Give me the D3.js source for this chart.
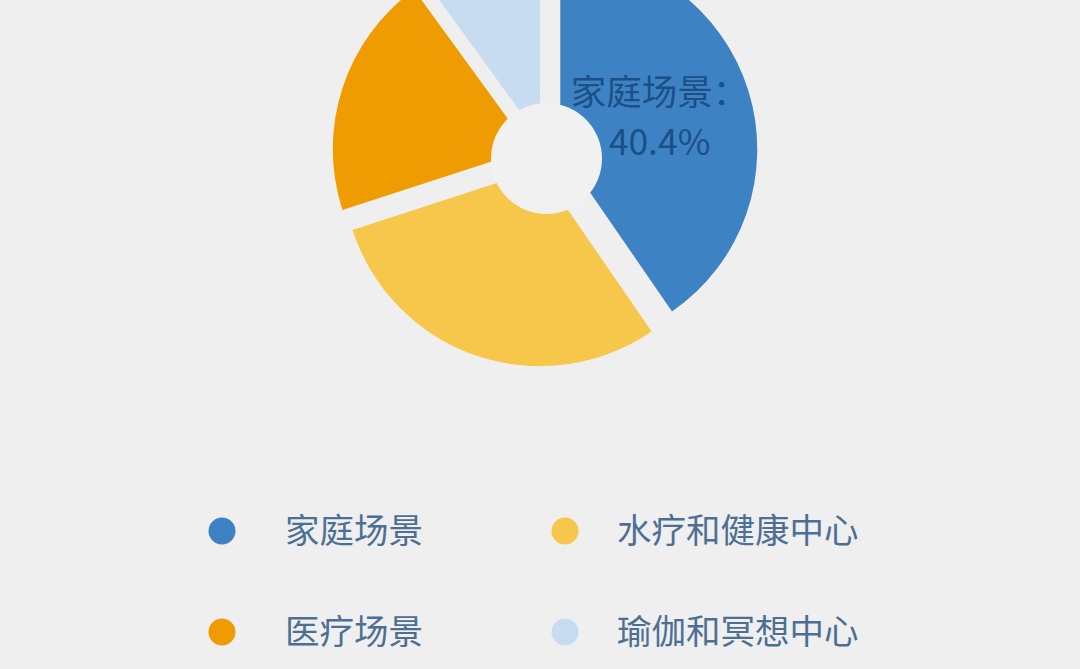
<!DOCTYPE html>
<html>
<head>
<meta charset="utf-8">
<script src="https://cdn.jsdelivr.net/npm/d3@7/dist/d3.min.js"></script>
<style>
    html, body { margin: 0; padding: 0; background: #efefef; }
    #container svg { display: block; }
</style>
</head>
<body>
<div id="container"><svg></svg></div>
<script>
let categories = ['家庭场景', '水疗和健康中心', '医疗场景', '瑜伽和冥想中心'];
let shares = [40.4, 29.6, 20.0, 10.0];
let colors = ['#3d83c3', '#f6c74b', '#ef9c02', '#c7dcf1'];
let label_index = 0;

let _width = 1080;
let _height = 669;
let fontFamily = '"Noto Sans CJK SC", "Noto Sans", sans-serif';

function draw_main(width, height) {
    let svg = d3.select('#container')
        .select('svg')
        .attr('width', width)
        .attr('height', height)
        .style('font-family', fontFamily);

    svg.append('rect')
        .attr('width', width)
        .attr('height', height)
        .attr('fill', '#efefef');

    let data = categories.map((c, i) => ({name: c, value: shares[i], color: colors[i]}));

    // pie
    let cx = 545, cy = 154;
    let R = 197;
    let explode = 16;
    let pie = d3.pie()
        .sort(null)
        .value(d => d.value);
    let arc = d3.arc()
        .innerRadius(0)
        .outerRadius(R);
    let arcs = pie(data);

    let g = svg.append('g')
        .attr('transform', `translate(${cx},${cy})`);

    let offset = d => {
        let mid = (d.startAngle + d.endAngle) / 2;
        return [explode * Math.sin(mid), -explode * Math.cos(mid)];
    };

    g.selectAll('path')
        .data(arcs)
        .enter().append('path')
        .attr('d', arc)
        .attr('fill', d => d.data.color)
        .attr('transform', d => `translate(${offset(d)})`);

    // centre hole
    g.append('circle')
        .attr('cx', 1.5)
        .attr('cy', 4.5)
        .attr('r', 55.5)
        .attr('fill', '#f1f1f1');

    // label on the biggest slice
    let lab = arcs[label_index];
    let labelArc = d3.arc().innerRadius(105).outerRadius(105);
    let [lx, ly] = labelArc.centroid(lab);
    let [ox, oy] = offset(lab);
    let label = g.append('text')
        .attr('transform', `translate(${lx + ox - 1},${ly + oy})`)
        .attr('text-anchor', 'middle')
        .attr('font-size', 35.5)
        .attr('fill', '#1c4f87');
    label.append('tspan')
        .attr('x', 0)
        .attr('y', -25)
        .attr('dy', '0.35em')
        .text(lab.data.name + '：');
    label.append('tspan')
        .attr('x', 0)
        .attr('y', 25)
        .attr('dy', '0.35em')
        .text(lab.data.value.toFixed(1) + '%');

    // legend, two columns
    let dotCol = d3.scaleOrdinal().domain([0, 1]).range([222, 565]);
    let textCol = d3.scaleOrdinal().domain([0, 1]).range([285, 617]);
    let row = d3.scaleOrdinal().domain([0, 1]).range([531, 632]);
    let legend = svg.append('g')
        .selectAll('g')
        .data(data)
        .enter().append('g')
        .attr('transform', (d, i) => `translate(0,${row(Math.floor(i / 2))})`);
    legend.append('circle')
        .attr('cx', (d, i) => dotCol(i % 2))
        .attr('r', 13.5)
        .attr('fill', d => d.color);
    legend.append('text')
        .attr('x', (d, i) => textCol(i % 2))
        .attr('dy', '0.35em')
        .attr('font-size', 34.5)
        .attr('fill', '#4d6f94')
        .text(d => d.name);
}

draw_main(_width, _height);
</script>
</body>
</html>
